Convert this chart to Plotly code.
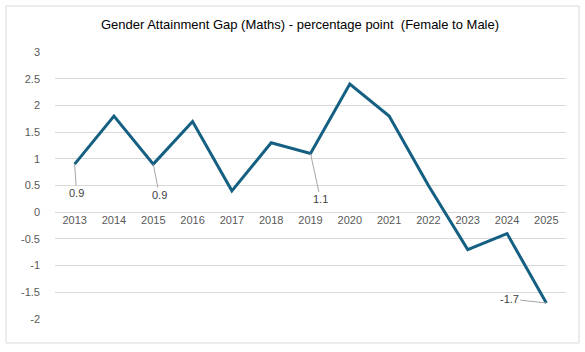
import plotly.graph_objects as go

years = [2013, 2014, 2015, 2016, 2017, 2018, 2019, 2020, 2021, 2022, 2023, 2024, 2025]
gap = [0.9, 1.8, 0.9, 1.7, 0.4, 1.3, 1.1, 2.4, 1.8, 0.5, -0.7, -0.4, -1.7]
labelled = {2013: (2, 29), 2015: (6, 31), 2019: (10, 46), 2025: (-37, -4)}
title = "Gender Attainment Gap (Maths) - percentage point  (Female to Male)"
ytick_vals = [3, 2.5, 2, 1.5, 1, 0.5, 0, -0.5, -1, -1.5, -2]
ytick_text = ["3", "2.5", "2", "1.5", "1", "0.5", "0", "-0.5", "-1", "-1.5", "-2"]

W, H = 585, 352
ml, mr, mt, mb = 55, 19, 52, 33

fig = go.Figure()
fig.add_trace(go.Scatter(
    x=years, y=gap, mode="lines",
    line=dict(color="#156082", width=3),
    hoverinfo="x+y",
))

annotations = []
for yr, (ax, ay) in labelled.items():
    v = gap[years.index(yr)]
    annotations.append(dict(
        x=yr, y=v, xref="x", yref="y", text=f"{v:g}",
        showarrow=True, arrowhead=0, arrowwidth=1, arrowcolor="#a6a6a6",
        ax=ax, ay=ay, standoff=0, startstandoff=0,
        font=dict(family="Liberation Sans, Arial", size=11, color="#404040"),
    ))

pw = W - ml - mr
ph = H - mt - mb
fig.add_shape(type="rect", xref="paper", yref="paper",
              x0=(6 - ml) / pw, x1=(579 - ml) / pw,
              y0=(H - mb - 343) / ph, y1=(H - mb - 6) / ph,
              line=dict(color="#d9d9d9", width=1), layer="below")

fig.update_layout(
    width=W, height=H,
    margin=dict(l=ml, r=mr, t=mt, b=mb),
    paper_bgcolor="white", plot_bgcolor="white",
    showlegend=False,
    title=dict(text=title, x=(300 - ml) / pw, xref="paper", xanchor="center",
               y=1 - 24 / H, yanchor="middle",
               font=dict(family="Liberation Sans, Arial", size=13, color="#000000")),
    xaxis=dict(
        range=[2012.5, 2025.5], tickmode="array", tickvals=years,
        ticktext=[str(y) for y in years],
        showgrid=False, zeroline=False, showline=False, ticks="",
        anchor="free", position=0.4,
        tickfont=dict(family="Liberation Sans, Arial", size=11, color="#595959"),
    ),
    yaxis=dict(
        range=[-2, 3], tickmode="array", tickvals=ytick_vals, ticktext=ytick_text,
        showgrid=True, gridcolor="#d9d9d9", gridwidth=1,
        zeroline=True, zerolinecolor="#d9d9d9", zerolinewidth=1,
        showline=False, ticks="", ticklabelstandoff=14,
        tickfont=dict(family="Liberation Sans, Arial", size=11, color="#595959"),
    ),
    annotations=annotations,
)

fig.write_html("out.html")
